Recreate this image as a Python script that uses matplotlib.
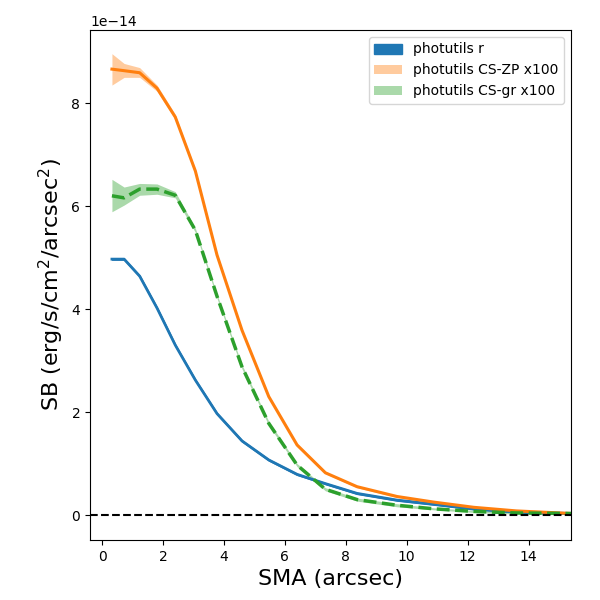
import numpy as np
import matplotlib.pyplot as plt

# Semi-major axis (arcsec)
sma = np.array([0.32, 0.72, 1.23, 1.80, 2.40, 3.06, 3.77, 4.59, 5.47, 6.40,
                7.33, 8.37, 9.68, 10.9, 12.2, 13.6, 15.4])

# Surface brightness profiles (units of 1e-14 erg/s/cm^2/arcsec^2)
sb_r = np.array([4.97, 4.97, 4.64, 4.02, 3.30, 2.62, 1.97, 1.44, 1.07, 0.79,
                 0.61, 0.42, 0.29, 0.21, 0.12, 0.06, 0.03])
sb_zp = np.array([8.66, 8.63, 8.59, 8.29, 7.73, 6.68, 5.05, 3.59, 2.30, 1.36,
                  0.82, 0.55, 0.36, 0.25, 0.15, 0.08, 0.03])
sb_gr = np.array([6.20, 6.16, 6.33, 6.33, 6.21, 5.53, 4.25, 2.88, 1.78, 0.97,
                  0.50, 0.30, 0.19, 0.12, 0.07, 0.04, 0.03])

# Uncertainty bands (upper / lower)
zp_hi = np.array([8.96, 8.77, 8.69, 8.35, 7.78, 6.72, 5.09, 3.62, 2.33, 1.39,
                  0.84, 0.57, 0.38, 0.27, 0.17, 0.10, 0.05])
zp_lo = np.array([8.35, 8.50, 8.50, 8.23, 7.68, 6.64, 5.01, 3.56, 2.27, 1.33,
                  0.80, 0.53, 0.34, 0.23, 0.13, 0.06, 0.01])
gr_hi = np.array([6.52, 6.37, 6.44, 6.43, 6.28, 5.57, 4.29, 2.92, 1.82, 1.00,
                  0.53, 0.33, 0.22, 0.14, 0.09, 0.06, 0.05])
gr_lo = np.array([5.89, 6.02, 6.21, 6.23, 6.16, 5.49, 4.21, 2.84, 1.74, 0.94,
                  0.47, 0.27, 0.16, 0.10, 0.05, 0.02, 0.01])

scale = 1e-14

fig = plt.figure(figsize=(6, 6), dpi=100)
ax = fig.add_axes([0.15, 0.10, 0.802, 0.85])

ax.fill_between(sma, (sb_r - 0.01) * scale, (sb_r + 0.01) * scale,
                color='C0', label='photutils r')
ax.plot(sma, sb_r * scale, color='C0', lw=2)

ax.fill_between(sma, zp_lo * scale, zp_hi * scale, color='C1', alpha=0.4,
                lw=0, label='photutils CS-ZP x100')
ax.plot(sma, sb_zp * scale, color='C1', lw=2.2)

ax.fill_between(sma, gr_lo * scale, gr_hi * scale, color='C2', alpha=0.4,
                lw=0, label='photutils CS-gr x100')
ax.plot(sma, sb_gr * scale, color='C2', lw=2.5, ls='--')

ax.axhline(0, color='k', ls='--', lw=1.5)

ax.set_xlim(-0.4, 15.4)
ax.set_ylim(-0.485 * scale, 9.42 * scale)
ax.set_xlabel('SMA (arcsec)', fontsize=16)
ax.set_ylabel(r'SB (erg/s/cm$^2$/arcsec$^2$)', fontsize=16)
ax.legend(loc='upper right')

fig.savefig('out.png')
